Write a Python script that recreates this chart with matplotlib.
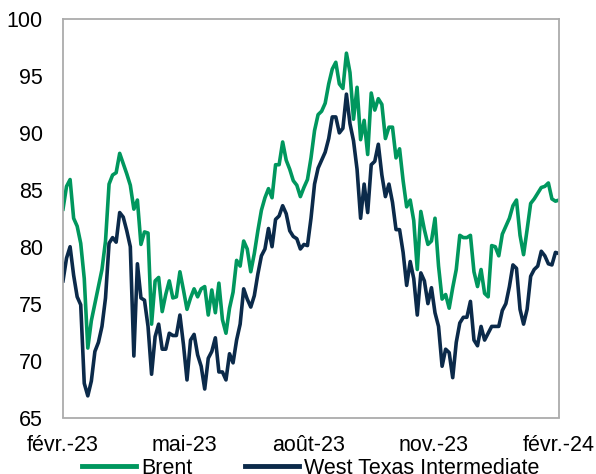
import matplotlib
matplotlib.use('Agg')
import matplotlib.pyplot as plt
from matplotlib.lines import Line2D
import pandas as pd

# prix du pétrole, USD/baril (lu sur le graphique, pas régulier de 3 jours)
brent = [83.3, 85.3, 85.9, 82.5, 81.8, 80.3, 77.2, 71.1, 73.5, 75.0,
         76.5, 78.0, 80.5, 85.5, 86.3, 86.5, 88.2, 87.3, 86.4, 85.4,
         83.3, 84.1, 80.2, 81.3, 81.2, 73.2, 77.0, 77.3, 74.3, 75.8,
         77.0, 75.5, 75.6, 77.8, 76.2, 74.5, 75.5, 76.3, 75.6, 76.3,
         76.5, 74.0, 76.2, 74.2, 76.8, 73.6, 72.4, 74.6, 76.0, 78.8,
         78.3, 80.5, 79.8, 77.8, 79.4, 81.4, 83.2, 84.3, 85.1, 84.3,
         87.2, 87.2, 89.2, 87.6, 86.8, 85.8, 85.4, 84.4, 85.2, 85.9,
         87.8, 90.2, 91.6, 91.9, 92.6, 94.3, 95.6, 96.2, 94.3, 93.9,
         97.0, 95.3, 91.2, 94.0, 89.4, 91.1, 88.1, 93.5, 92.0, 93.0,
         92.5, 89.5, 90.5, 90.5, 87.8, 88.6, 85.8, 83.5, 84.1, 82.3,
         78.0, 83.1, 81.5, 80.2, 80.5, 82.5, 78.3, 75.4, 75.8, 74.6,
         76.4, 78.0, 81.0, 80.8, 80.8, 81.0, 77.8, 76.5, 78.0, 75.9,
         75.6, 80.1, 80.0, 79.2, 81.1, 81.8, 82.5, 83.6, 84.1, 81.0,
         79.3, 81.5, 83.8, 84.2, 84.7, 85.2, 85.3, 85.6, 84.2, 84.0,
         84.1]

wti = [77.0, 79.0, 80.0, 77.5, 75.6, 74.9, 68.0, 66.9, 68.2, 70.8,
       71.6, 73.0, 75.5, 80.3, 80.8, 80.4, 83.0, 82.6, 81.4, 80.0,
       70.4, 78.5, 75.5, 75.3, 73.0, 68.8, 72.1, 73.2, 71.0, 71.0,
       72.4, 72.2, 72.2, 74.0, 71.4, 68.3, 71.8, 72.3, 70.5, 69.5,
       67.5, 70.2, 70.8, 72.0, 69.0, 69.0, 68.3, 70.6, 69.8, 71.8,
       73.2, 76.3, 75.4, 74.7, 75.7, 77.6, 79.2, 79.8, 81.6, 80.0,
       82.4, 82.7, 83.6, 82.9, 81.4, 80.9, 80.7, 79.8, 80.2, 80.1,
       82.5, 85.5, 86.9, 87.6, 88.3, 89.5, 91.4, 91.4, 90.0, 90.4,
       93.4, 90.8, 89.3, 86.8, 82.5, 85.5, 83.0, 87.2, 87.5, 89.0,
       86.3, 84.4, 85.5, 83.9, 81.5, 81.5, 79.5, 76.6, 78.7, 77.2,
       74.0, 77.7, 77.0, 75.0, 76.4, 74.2, 73.0, 69.5, 71.0, 70.7,
       68.5, 71.6, 73.3, 73.8, 73.8, 75.2, 71.8, 71.3, 73.0, 71.8,
       72.4, 73.0, 73.0, 73.0, 74.4, 75.0, 76.5, 78.4, 78.1, 74.5,
       73.2, 74.5, 77.4, 78.0, 78.3, 79.6, 79.2, 78.5, 78.4, 79.5,
       79.4]

dates = pd.date_range('2023-02-01', '2024-02-01', periods=len(brent))

tick_dates = pd.to_datetime(['2023-02-01', '2023-05-01', '2023-08-01',
                             '2023-11-01', '2024-02-01'])
tick_labels = ['févr.-23', 'mai-23', 'août-23', 'nov.-23', 'févr.-24']
y_ticks = [65, 70, 75, 80, 85, 90, 95, 100]

green = '#00975E'
navy = '#0B2A4A'

plt.rcParams['font.family'] = ['Liberation Sans', 'DejaVu Sans']
plt.rcParams['font.size'] = 15.5

fig = plt.figure(figsize=(5.96, 4.74), dpi=100)
ax = fig.add_axes([63 / 596, 1 - 417.5 / 474, 496 / 596, 398.5 / 474])

ax.plot(dates, brent, color=green, lw=2.6, solid_joinstyle='round')
ax.plot(dates, wti, color=navy, lw=2.6, solid_joinstyle='round')

ax.set_xlim(dates[0], dates[-1])
ax.set_ylim(65, 100)
ax.set_yticks(y_ticks)
ax.set_xticks(tick_dates)
ax.set_xticklabels(tick_labels)

ax.tick_params(axis='y', length=0, pad=14.4)
ax.tick_params(axis='x', length=0, pad=12.3)
for s in ax.spines.values():
    s.set_color('#ABABAB')
    s.set_linewidth(1.3)

handles = [Line2D([], [], color=green, lw=3.5),
           Line2D([], [], color=navy, lw=3.5)]
fig.legend(handles, ['Brent', 'West Texas Intermediate'], loc='center',
           bbox_to_anchor=(0.521, 0.012), ncol=2, frameon=False,
           handlelength=2.5, handletextpad=0.23, columnspacing=2.45,
           borderpad=0, borderaxespad=0)

fig.savefig('out.png', dpi=100)
